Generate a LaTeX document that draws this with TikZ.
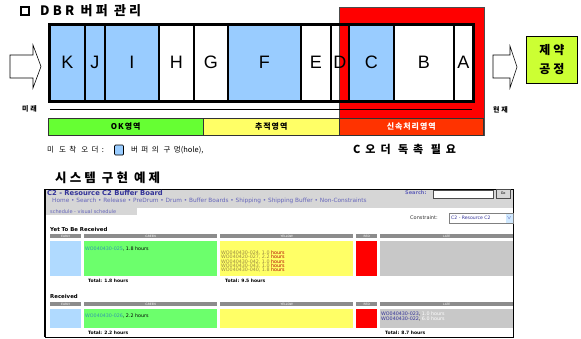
\documentclass[tikz,border=0pt]{standalone}
\usepackage{fontspec}
\setmainfont{Liberation Sans}
\newfontfamily\kr{Noto Sans CJK KR}
\newfontfamily\krs[LetterSpace=12]{Noto Sans CJK KR}
\newfontfamily\krsp[LetterSpace=25]{Noto Sans CJK KR}
\newfontfamily\krspp[LetterSpace=45]{Noto Sans CJK KR}
\newfontfamily\web{DejaVu Sans}
\definecolor{cellblue}{HTML}{99CCFF}
\definecolor{okgreen}{HTML}{66FF33}
\definecolor{trkyellow}{HTML}{FFFF66}
\definecolor{fastred}{HTML}{FF3300}
\definecolor{limebox}{HTML}{CCFF33}
\definecolor{hdrgray}{HTML}{D6D6D6}
\definecolor{colgray}{HTML}{8C8C8C}
\definecolor{wblue}{HTML}{B0DAFF}
\definecolor{wgreen}{HTML}{6CFF6C}
\definecolor{wyellow}{HTML}{FFFF66}
\definecolor{wlate}{HTML}{C8C8C8}
\definecolor{wtitle}{HTML}{333399}
\definecolor{wlink}{HTML}{6666BB}
\definecolor{wid}{HTML}{3399AA}
\definecolor{wbrown}{HTML}{998844}
\begin{document}
\begin{tikzpicture}[x=1pt,y=-1pt,
  cell/.style={draw=black, line width=1.6pt, anchor=north west, minimum height=76pt, inner sep=0pt, font=\fontsize{18}{18}\selectfont},
  bar/.style={draw=black!80, line width=0.5pt, anchor=north west, minimum height=17pt, inner sep=0pt, font=\krs\bfseries\fontsize{8}{8}\selectfont},
  blockarrow/.style={draw=black, line width=0.6pt, fill=white},
  colhdr/.style={fill=colgray, anchor=north west, minimum height=4.5pt, inner sep=0pt, text=white, font=\web\fontsize{3}{3}\selectfont},
  colbox/.style={anchor=north west, inner sep=0pt},
  wtext/.style={anchor=west, inner sep=0pt, font=\web\fontsize{4.8}{4.8}\selectfont},
  wbold/.style={anchor=west, inner sep=0pt, font=\web\bfseries\fontsize{5}{5}\selectfont},
  lbl/.style={anchor=west, inner sep=0pt}]
\useasboundingbox (0,0) rectangle (581,338);
\fill[white] (0,0) rectangle (581,338);

% title
\node[draw, line width=1.5pt, minimum size=8pt, inner sep=0pt] (sq) at (25,11) {};
\node[lbl, font=\krsp\bfseries\fontsize{13}{13}\selectfont] (title) at (40,11) {DBR 버퍼 관리};

% urgent red area
\node[draw=black!70, line width=0.6pt, fill=red, anchor=north west, minimum width=145pt, minimum height=128pt, inner sep=0pt] (urgent) at (339,7) {};

% buffer cells
\node[cell, fill=cellblue, minimum width=35pt] (K) at (49,24) {K};
\node[cell, fill=cellblue, minimum width=20pt] (J) at (84,24) {J};
\node[cell, fill=cellblue, minimum width=54pt] (I) at (104,24) {I};
\node[cell, fill=white, minimum width=35pt] (H) at (158,24) {H};
\node[cell, fill=white, minimum width=34pt] (G) at (193,24) {G};
\node[cell, fill=cellblue, minimum width=73pt] (F) at (227,24) {F};
\node[cell, fill=white, minimum width=30pt] (E) at (300,24) {E};
\node[cell, minimum width=18pt] (D) at (330,24) {D};
\node[cell, fill=cellblue, minimum width=45pt] (C) at (348,24) {C};
\node[cell, fill=white, minimum width=60pt] (B) at (393,24) {B};
\node[cell, fill=white, minimum width=19pt] (A) at (453,24) {A};
\draw[line width=2pt] (K.north west) rectangle (A.south east);

% arrows
\draw[blockarrow] (10,55) -- (33,55) -- (33,45) -- (41,66.5) -- (33,88) -- (33,78) -- (10,78) -- cycle;
\draw[blockarrow] (493,55) -- (510,55) -- (510,46) -- (517,67) -- (510,88) -- (510,78) -- (493,78) -- cycle;

% constraint box
\node[draw=black, line width=0.7pt, fill=limebox, anchor=north west, minimum width=51pt, minimum height=47pt, inner sep=0pt, align=center, font=\krsp\bfseries\fontsize{12}{19}\selectfont] (cons) at (526,36) {제약\\공정};

% timeline
\coordinate (tl0) at (50,109);
\coordinate (tl1) at (472,109);
\draw[line width=0.8pt] (tl0) -- (tl1);
\node[lbl, font=\krsp\bfseries\fontsize{7}{7}\selectfont] (future) at (22,109) {미래};
\node[lbl, font=\krsp\bfseries\fontsize{7}{7}\selectfont] (now) at (493,110) {현재};

% zone bars
\node[bar, fill=okgreen, minimum width=155pt] (ok) at (48,118) {OK영역};
\node[bar, fill=trkyellow, minimum width=136pt] (trk) at (203,118) {추적영역};
\node[bar, fill=fastred, minimum width=144pt, text=white] (fast) at (339,118) {신속처리영역};

% captions
\node[lbl, font=\krspp\fontsize{7.5}{7.5}\selectfont] (cap1) at (47,150) {미 도착 오더:};
\node[draw=black, line width=0.7pt, fill=cellblue, rounded corners=1pt, minimum width=9pt, minimum height=10pt, inner sep=0pt] (holebox) at (119,150) {};
\node[lbl, font=\krspp\fontsize{7.5}{7.5}\selectfont] (cap2) at (131,150) {버퍼의 구멍{\kr(hole),}};
\node[lbl, font=\krspp\bfseries\fontsize{11}{11}\selectfont] (cap3) at (353,149) {C오더 독촉 필요};
\node[lbl, font=\krsp\bfseries\fontsize{12.5}{12.5}\selectfont] (sys) at (55,178) {시스템 구현 예제};

% ===== screenshot =====
\fill[hdrgray] (45,189) rectangle (513,208);
\fill[hdrgray] (45,208) rectangle (137,215);
\draw[line width=0.6pt] (45,189) rectangle (513,337);
\draw[line width=1.6pt] (45,189) -- (45,337);
\node[wbold, text=wtitle, font=\web\bfseries\fontsize{6.8}{6.8}\selectfont] (wt) at (47,193) {C2 - Resource C2 Buffer Board};
\node[wtext, text=wlink, font=\web\fontsize{5.8}{5.8}\selectfont] (nav) at (52,201) {Home • Search • Release • PreDrum • Drum • Buffer Boards • Shipping • Shipping Buffer • Non-Constraints};
\node[wtext, text=wlink, font=\web\fontsize{5}{5}\selectfont] (sched) at (50,211.5) {schedule - visual schedule};
\node[wtext, text=wlink, font=\web\bfseries\fontsize{5}{5}\selectfont] (srch) at (405,193) {Search:};
\node[draw=black!70, fill=white, anchor=north west, minimum width=60pt, minimum height=8pt, inner sep=0pt, line width=0.4pt] (sbox) at (433,189.5) {};
\node[draw=black!70, fill=hdrgray, anchor=north west, minimum width=14pt, minimum height=9pt, inner sep=0pt, line width=0.4pt, font=\web\fontsize{3.5}{3.5}\selectfont] (go) at (496,189) {Go};
\node[wtext, text=black!80, font=\web\fontsize{5}{5}\selectfont] (cst) at (410,218) {Constraint:};
\node[draw=black!50, fill=white, anchor=north west, minimum width=64pt, minimum height=10pt, inner sep=0pt, line width=0.4pt] (dd) at (449,213) {};
\node[wtext, text=wtitle, font=\web\fontsize{4.6}{4.6}\selectfont] (ddt) at (451,218) {C2 - Resource C2};
\node[fill=wblue!60, anchor=north west, minimum width=7pt, minimum height=9pt, inner sep=0pt, font=\web\fontsize{3.5}{3.5}\selectfont, text=wtitle] (ddarrow) at (505.5,213.5) {$\vee$};

% Yet to be received
\node[wbold, font=\web\bfseries\fontsize{5.4}{5.4}\selectfont] (ytr) at (50,229) {Yet To Be Received};
\node[colhdr, minimum width=31pt] (h1e) at (50,233.5) {EARLY};
\node[colhdr, minimum width=133pt] (h1g) at (84,233.5) {GREEN};
\node[colhdr, minimum width=133pt] (h1y) at (220,233.5) {YELLOW};
\node[colhdr, minimum width=21pt] (h1r) at (356,233.5) {RED};
\node[colhdr, minimum width=133pt] (h1l) at (380,233.5) {LATE};
\node[colbox, fill=wblue, minimum width=31pt, minimum height=35pt] (c1e) at (50,241) {};
\node[colbox, fill=wgreen, minimum width=133pt, minimum height=35pt] (c1g) at (84,241) {};
\node[colbox, fill=wyellow, minimum width=133pt, minimum height=35pt] (c1y) at (220,241) {};
\node[colbox, fill=red, minimum width=21pt, minimum height=35pt] (c1r) at (356,241) {};
\node[colbox, fill=wlate, minimum width=133pt, minimum height=35pt] (c1l) at (380,241) {};
\node[wtext] (g1t) at (85,249) {\textcolor{wid}{WO040430-025}, 1.8 hours};
\node[wtext] (y1a) at (221,253) {\textcolor{wbrown}{WO040430-024, 1.0} \textcolor{red!70!black}{hours}};
\node[wtext] (y1b) at (221,257.3) {\textcolor{wbrown}{WO040420-027, 2.2} \textcolor{red!70!black}{hours}};
\node[wtext] (y1c) at (221,261.6) {\textcolor{wbrown}{WO040430-042, 1.0} \textcolor{red!70!black}{hours}};
\node[wtext] (y1d) at (221,265.8) {\textcolor{wbrown}{WO040430-043, 1.0} \textcolor{red!70!black}{hours}};
\node[wtext] (y1e) at (221,270) {\textcolor{wbrown}{WO040430-040, 1.8} \textcolor{red!70!black}{hours}};
\node[wbold, font=\web\bfseries\fontsize{4.5}{4.5}\selectfont] (tot1) at (88,281) {Total: 1.8 hours};
\node[wbold, font=\web\bfseries\fontsize{4.5}{4.5}\selectfont] (tot2) at (225,281) {Total: 9.5 hours};

% Received
\node[wbold, font=\web\bfseries\fontsize{5.4}{5.4}\selectfont] (rcv) at (50,296) {Received};
\node[colhdr, minimum width=31pt] (h2e) at (50,301.5) {EARLY};
\node[colhdr, minimum width=133pt] (h2g) at (84,301.5) {GREEN};
\node[colhdr, minimum width=133pt] (h2y) at (220,301.5) {YELLOW};
\node[colhdr, minimum width=21pt] (h2r) at (356,301.5) {RED};
\node[colhdr, minimum width=133pt] (h2l) at (380,301.5) {LATE};
\node[colbox, fill=wblue, minimum width=31pt, minimum height=19pt] (c2e) at (50,309) {};
\node[colbox, fill=wgreen, minimum width=133pt, minimum height=19pt] (c2g) at (84,309) {};
\node[colbox, fill=wyellow, minimum width=133pt, minimum height=19pt] (c2y) at (220,309) {};
\node[colbox, fill=red, minimum width=21pt, minimum height=19pt] (c2r) at (356,309) {};
\node[colbox, fill=wlate, minimum width=133pt, minimum height=19pt] (c2l) at (380,309) {};
\node[wtext] (g2t) at (85,316) {\textcolor{wid}{WO040430-026}, 2.2 hours};
\node[wtext] (l2a) at (381,314) {\textcolor{wtitle}{WO040430-023}, \textcolor{white}{1.0 hours}};
\node[wtext] (l2b) at (381,319) {\textcolor{wtitle}{WO040430-022}, \textcolor{white}{6.0 hours}};
\node[wbold, font=\web\bfseries\fontsize{4.5}{4.5}\selectfont] (tot3) at (88,333) {Total: 2.2 hours};
\node[wbold, font=\web\bfseries\fontsize{4.5}{4.5}\selectfont] (tot4) at (385,333) {Total: 8.7 hours};
\end{tikzpicture}
\end{document}
